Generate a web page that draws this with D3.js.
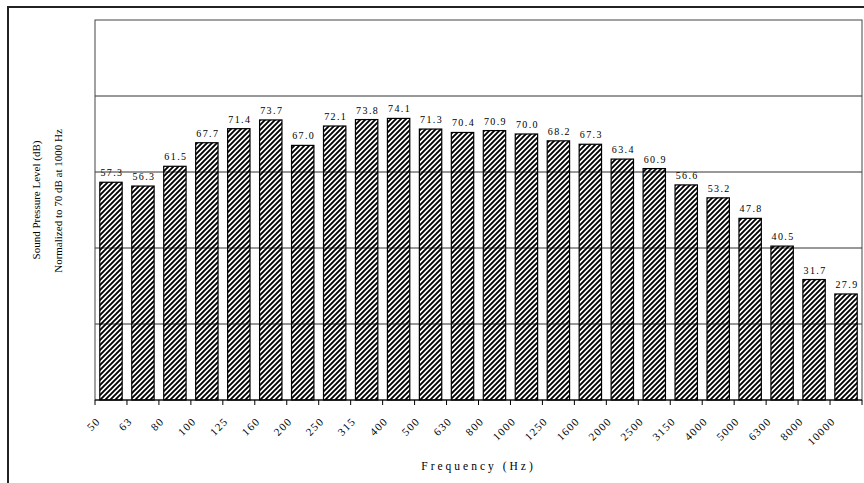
<!DOCTYPE html>
<html>
<head>
<meta charset="utf-8">
<script src="https://cdn.jsdelivr.net/npm/d3@7"></script>
<style>
  body { margin: 0; background: #fff; }
  text { font-family: "Liberation Serif", "Times New Roman", serif; fill: #000; }
</style>
</head>
<body>
<div id="chart"></div>
<script>
// frequency bands (Hz) and normalized levels (dB)
const freqs = ["50", "63", "80", "100", "125", "160", "200", "250", "315", "400",
  "500", "630", "800", "1000", "1250", "1600", "2000", "2500", "3150", "4000",
  "5000", "6300", "8000", "10000"];
const levels = [57.3, 56.3, 61.5, 67.7, 71.4, 73.7, 67.0, 72.1, 73.8, 74.1,
  71.3, 70.4, 70.9, 70.0, 68.2, 67.3, 63.4, 60.9, 56.6, 53.2,
  47.8, 40.5, 31.7, 27.9];
const yTicks = [0, 20, 40, 60, 80, 100];

const W = 864, H = 483;
const margin = { top: 20, right: 2, bottom: 83, left: 95 },
  width = W - margin.left - margin.right,
  height = H - margin.top - margin.bottom;

const svg = d3.select("#chart").append("svg")
  .attr("width", W)
  .attr("height", H);

// hatch fill for the bars
const defs = svg.append("defs");
defs.append("pattern")
  .attr("id", "hatch")
  .attr("patternUnits", "userSpaceOnUse")
  .attr("width", 5).attr("height", 5)
  .append("path")
  .attr("d", "M-1,1 l2,-2 M0,5 l5,-5 M4,6 l2,-2")
  .attr("stroke", "#000")
  .attr("stroke-width", 1.9);

// outer frame (only top/left edges fall inside the window)
svg.append("rect")
  .attr("x", 8).attr("y", 7)
  .attr("width", 900).attr("height", 520)
  .attr("fill", "none")
  .attr("stroke", "#222")
  .attr("stroke-width", 2);

const g = svg.append("g")
  .attr("transform", "translate(" + margin.left + "," + margin.top + ")");

const x = d3.scaleBand()
  .domain(freqs)
  .range([0, width])
  .paddingInner(0.3)
  .paddingOuter(0.15);

const y = d3.scaleLinear()
  .domain([0, 100])
  .range([height, 0]);

// gridlines
g.selectAll(".grid")
  .data(yTicks.slice(1, -1))
  .enter().append("line")
  .attr("x1", 0).attr("x2", width)
  .attr("y1", d => y(d)).attr("y2", d => y(d))
  .attr("stroke", "#333")
  .attr("stroke-width", 1);

// plot border
g.append("rect")
  .attr("width", width).attr("height", height)
  .attr("fill", "none")
  .attr("stroke", "#444")
  .attr("stroke-width", 1);

// bars
g.selectAll(".bar")
  .data(levels)
  .enter().append("rect")
  .attr("x", (d, i) => x(freqs[i]))
  .attr("y", d => y(d))
  .attr("width", x.bandwidth())
  .attr("height", d => height - y(d))
  .attr("fill", "url(#hatch)")
  .attr("stroke", "#000")
  .attr("stroke-width", 1.2);

// value labels
g.selectAll(".val")
  .data(levels)
  .enter().append("text")
  .attr("x", (d, i) => x(freqs[i]) + x.bandwidth() / 2 + 1)
  .attr("y", d => y(d) - 6)
  .attr("text-anchor", "middle")
  .style("font-size", "10px")
  .style("letter-spacing", "1.4px")
  .text(d => d.toFixed(1));

// x axis: ticks sit on category boundaries, labels at the left boundary
const tickPos = freqs.map((f, i) => i * width / freqs.length);
const xAxis = g.append("g").attr("transform", "translate(0," + height + ")");
xAxis.append("line")
  .attr("x1", 0).attr("x2", width)
  .attr("stroke", "#000");
xAxis.selectAll(".tick")
  .data(tickPos.concat([width]))
  .enter().append("line")
  .attr("x1", d => d).attr("x2", d => d)
  .attr("y1", 0).attr("y2", 5)
  .attr("stroke", "#000");
xAxis.selectAll(".lab")
  .data(freqs)
  .enter().append("text")
  .attr("transform", (d, i) => "translate(" + (tickPos[i] + 6) + ",22) rotate(-45)")
  .attr("text-anchor", "end")
  .style("font-size", "11px")
  .style("letter-spacing", "1.3px")
  .text(d => d);

// axis titles
svg.append("text")
  .attr("x", margin.left + width / 2)
  .attr("y", 470)
  .attr("text-anchor", "middle")
  .style("font-size", "11.5px")
  .style("letter-spacing", "3px")
  .text("Frequency (Hz)");

svg.append("text")
  .attr("transform", "translate(40,200) rotate(-90)")
  .attr("text-anchor", "middle")
  .style("font-size", "11px")
  .text("Sound Pressure Level (dB)");

svg.append("text")
  .attr("transform", "translate(62,201) rotate(-90)")
  .attr("text-anchor", "middle")
  .style("font-size", "11px")
  .text("Normalized to 70 dB at 1000 Hz");
</script>
</body>
</html>
